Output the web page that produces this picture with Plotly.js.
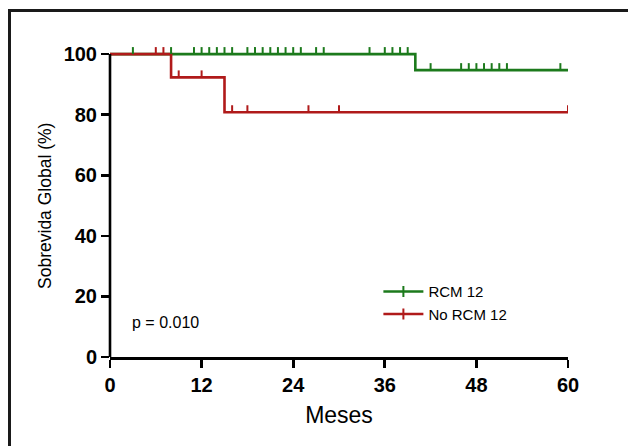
<!DOCTYPE html>
<html>
<head>
<meta charset="utf-8">
<script src="https://cdn.plot.ly/plotly-3.0.1.min.js"></script>
<style>
  html, body { margin: 0; padding: 0; background: #fff; overflow: hidden; }
  #frame { position: absolute; left: 8px; top: 9px; width: 700px; height: 500px;
           border-left: 3px solid #1a1a1a; border-top: 3px solid #1a1a1a; pointer-events: none; }
  #chart { position: absolute; left: 0; top: 0; width: 628px; height: 446px; }
</style>
</head>
<body>
<div id="frame"></div>
<div id="chart"></div>
<script>
// ---- Data (months, % survival) ----
const seriesNames = ["RCM 12", "No RCM 12"];

// Step curves: time points where the survival level changes, and the level from that time on
const rcmTimes    = [0, 40, 60];
const rcmSurv     = [100, 94.7, 94.7];
const noRcmTimes  = [0, 8, 15, 60];
const noRcmSurv   = [100, 92.3, 80.8, 80.8];

// Censored observations (months)
const rcmCensored   = [3, 8, 11, 12, 13, 14, 15, 16, 18, 19, 20, 21, 22, 23, 24, 25, 27, 28,
                       34, 36, 37, 38, 39, 42, 46, 47, 48, 49, 50, 51, 52, 59];
const noRcmCensored = [6, 7, 9, 12, 16, 18, 26, 30, 60];

const xTicks = [0, 12, 24, 36, 48, 60];
const yTicks = [0, 20, 40, 60, 80, 100];
const xTitle = "Meses";
const yTitle = "Sobrevida Global (%)";
const pValueText = "p = 0.010";

// ---- Styles ----
const GREEN = "#1c7a1c";
const RED = "#b01a1a";

function survAt(times, surv, t) {
  let s = surv[0];
  for (let i = 0; i < times.length; i++) { if (times[i] <= t) s = surv[i]; }
  return s;
}

const traces = [
  { x: rcmTimes, y: rcmSurv, mode: "lines", line: { shape: "hv", color: GREEN, width: 2.6 },
    showlegend: false, cliponaxis: false, hoverinfo: "skip" },
  { x: noRcmTimes, y: noRcmSurv, mode: "lines", line: { shape: "hv", color: RED, width: 2.6 },
    showlegend: false, cliponaxis: false, hoverinfo: "skip" },
  // legend entries
  { x: [null], y: [null], name: seriesNames[0], mode: "lines+markers",
    line: { color: GREEN, width: 2.6 },
    marker: { symbol: "line-ns-open", size: 8, line: { color: GREEN, width: 2 } } },
  { x: [null], y: [null], name: seriesNames[1], mode: "lines+markers",
    line: { color: RED, width: 2.6 },
    marker: { symbol: "line-ns-open", size: 8, line: { color: RED, width: 2 } } }
];

const shapes = [];
function addCensor(times, surv, cens, color) {
  cens.forEach(t => {
    shapes.push({ type: "line", xref: "x", yref: "y", ysizemode: "pixel",
      yanchor: survAt(times, surv, t), x0: t, x1: t, y0: 0, y1: 7,
      line: { color: color, width: 2 } });
  });
}
addCensor(rcmTimes, rcmSurv, rcmCensored, GREEN);
addCensor(noRcmTimes, noRcmSurv, noRcmCensored, RED);

// y-axis line from 0 to 100 only
shapes.push({ type: "line", xref: "paper", yref: "y", x0: 0, x1: 0,
  y0: yTicks[0], y1: yTicks[yTicks.length - 1], line: { color: "#000", width: 2.6 }, layer: "above" });

const tickFont = { family: "Liberation Sans, Arial, sans-serif", size: 20, color: "#000", weight: "bold" };

const layout = {
  width: 628, height: 446,
  margin: { l: 110, r: 60, t: 45, b: 89 },
  paper_bgcolor: "rgba(0,0,0,0)",
  plot_bgcolor: "rgba(0,0,0,0)",
  font: { family: "Liberation Sans, Arial, sans-serif", color: "#000" },
  xaxis: {
    range: [0, 60], tickvals: xTicks, ticktext: xTicks.map(String),
    showgrid: false, zeroline: false, showline: true, linecolor: "#000", linewidth: 2.6,
    ticks: "outside", ticklen: 8, tickwidth: 2.6, tickcolor: "#000",
    tickfont: tickFont, automargin: false,
    title: { text: xTitle, font: { size: 23, color: "#000" }, standoff: 13 }
  },
  yaxis: {
    range: [0, 103], tickvals: yTicks, ticktext: yTicks.map(String),
    showgrid: false, zeroline: false, showline: false,
    ticks: "outside", ticklen: 8, tickwidth: 2.6, tickcolor: "#000",
    tickfont: tickFont, automargin: false
  },
  shapes: shapes,
  showlegend: true,
  legend: {
    x: 0.586, y: 0.262, xanchor: "left", yanchor: "top",
    bgcolor: "rgba(0,0,0,0)", itemwidth: 40,
    font: { size: 15, color: "#000" }, tracegroupgap: 2
  },
  annotations: [
    { xref: "paper", yref: "paper", x: -0.142, y: 0.484, xanchor: "center", yanchor: "middle",
      textangle: -90, text: yTitle, showarrow: false, font: { size: 17.5, color: "#000" } },
    { xref: "paper", yref: "paper", x: 0.043, y: 0.109, xanchor: "left", yanchor: "middle",
      text: pValueText, showarrow: false, font: { size: 16, color: "#000" } }
  ]
};

Plotly.newPlot("chart", traces, layout, { staticPlot: true, displayModeBar: false });
</script>
</body>
</html>
